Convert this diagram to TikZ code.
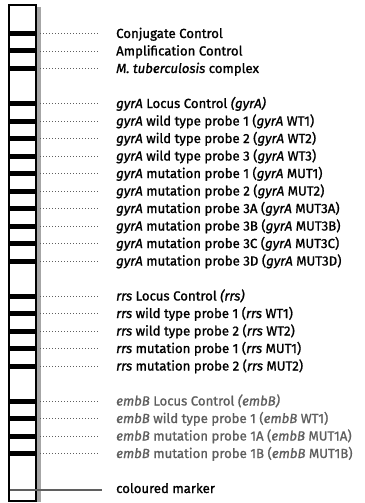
\documentclass[tikz,border=0pt]{standalone}
\usepackage{fontspec}
\setmainfont{Fira Sans}[FakeBold=1.2]
\usetikzlibrary{calc}
\definecolor{embgray}{RGB}{95,95,95}
\definecolor{dotgray}{RGB}{95,95,95}
\begin{document}
\begin{tikzpicture}[x=1pt,y=-1pt,
  band/.style={fill=black, draw=none, minimum width=27pt, minimum height=5pt, inner sep=0pt},
  lab/.style={anchor=base west, inner sep=0pt, font=\fontsize{13.2}{15}\selectfont},
  dots/.style={draw=dotgray, line width=0.9pt, dash pattern=on 0.9pt off 2.1pt},
]
\useasboundingbox (0,0) rectangle (364,503);
% shadow on the right of the strip
\fill[black!35] (37,7) rectangle (40.5,502);
% strip
\draw[line width=2.4pt] (9,5) rectangle (36,501);
% bands and labels
\foreach \i/\t/\c in {
  0/{Conjugate Control}/black,
  1/{Amplification Control}/black,
  2/{\textit{M. tuberculosis} complex}/black,
  4/{\textit{gyrA} Locus Control \textit{(gyrA)}}/black,
  5/{\textit{gyrA} wild type probe 1 (\textit{gyrA} WT1)}/black,
  6/{\textit{gyrA} wild type probe 2 (\textit{gyrA} WT2)}/black,
  7/{\textit{gyrA} wild type probe 3 (\textit{gyrA} WT3)}/black,
  8/{\textit{gyrA} mutation probe 1 (\textit{gyrA} MUT1)}/black,
  9/{\textit{gyrA} mutation probe 2 (\textit{gyrA} MUT2)}/black,
  10/{\textit{gyrA} mutation probe 3A (\textit{gyrA} MUT3A)}/black,
  11/{\textit{gyrA} mutation probe 3B (\textit{gyrA} MUT3B)}/black,
  12/{\textit{gyrA} mutation probe 3C (\textit{gyrA} MUT3C)}/black,
  13/{\textit{gyrA} mutation probe 3D (\textit{gyrA} MUT3D)}/black,
  15/{\textit{rrs} Locus Control \textit{(rrs)}}/black,
  16/{\textit{rrs} wild type probe 1 (\textit{rrs} WT1)}/black,
  17/{\textit{rrs} wild type probe 2 (\textit{rrs} WT2)}/black,
  18/{\textit{rrs} mutation probe 1 (\textit{rrs} MUT1)}/black,
  19/{\textit{rrs} mutation probe 2 (\textit{rrs} MUT2)}/black,
  21/{\textit{embB} Locus Control \textit{(embB)}}/embgray,
  22/{\textit{embB} wild type probe 1 (\textit{embB} WT1)}/embgray,
  23/{\textit{embB} mutation probe 1A (\textit{embB} MUT1A)}/embgray,
  24/{\textit{embB} mutation probe 1B (\textit{embB} MUT1B)}/embgray}
{
  \node[band] (b\i) at (22.5,{33.5+17.5*\i}) {};
  \node[lab, text=\c] (t\i) at (116,{38+17.5*\i}) {\t};
  \draw[dots] ($(b\i.east)+(4,0)$) -- ($(b\i.east -| t\i.west)+(-16,0)$);
}
% coloured marker
\node[lab] (tm) at (116,{38+17.5*26}) {coloured marker};
\coordinate (ml) at (10.2,490);
\draw[dotgray, line width=1.1pt] (ml) -- ($(ml -| tm.west)+(-14,0)$);
\end{tikzpicture}
\end{document}
